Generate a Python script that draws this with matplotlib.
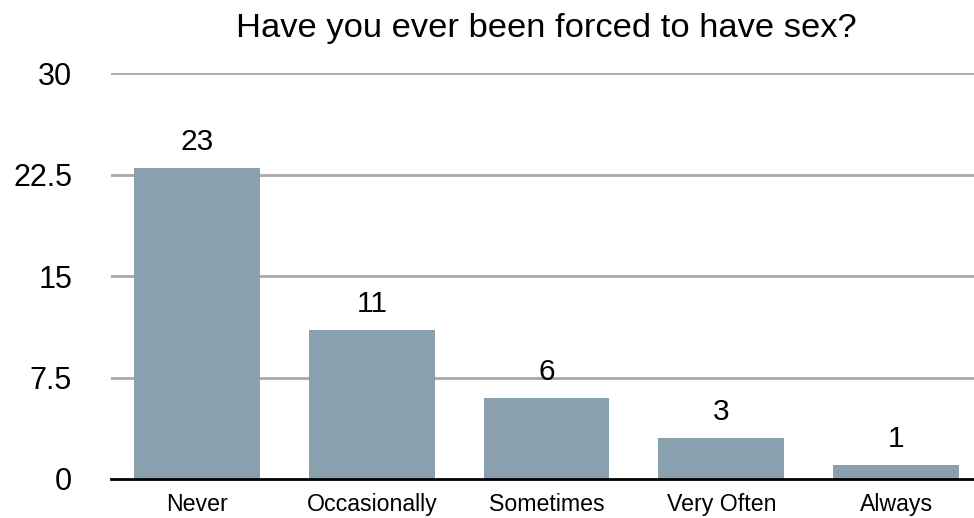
import matplotlib
matplotlib.use("Agg")
import matplotlib.pyplot as plt

plt.rcParams['font.family'] = ['Liberation Sans', 'DejaVu Sans']

categories = ["Never", "Occasionally", "Sometimes", "Very Often", "Always"]
counts = [23, 11, 6, 3, 1]
y_ticks = [0, 7.5, 15, 22.5, 30]
y_tick_labels = ["0", "7.5", "15", "22.5", "30"]

fig = plt.figure(figsize=(9.74, 5.18), dpi=100)
ax = fig.add_axes([111 / 974, 39 / 518, (974 - 111) / 974, (479 - 73.3) / 518])

x = list(range(len(categories)))
ax.bar(x, counts, width=0.72, color="#8aa0ae", zorder=3)

for xi, c in zip(x, counts):
    ax.annotate(str(c), (xi, c), xytext=(0, 13), textcoords="offset points",
                ha="center", va="baseline", fontsize=21.5, color="black")

ax.set_xlim(-0.492, 4.446)
ax.set_ylim(0, 30)
ax.set_yticks(y_ticks)
ax.set_yticklabels(y_tick_labels, fontsize=22)
ax.set_xticks(x)
ax.set_xticklabels(categories, fontsize=16.7)
ax.tick_params(axis="y", length=0, pad=28)
ax.tick_params(axis="x", length=0, pad=10)

for s in ["top", "right", "left"]:
    ax.spines[s].set_visible(False)
ax.spines["bottom"].set_linewidth(2)
ax.spines["bottom"].set_color("black")
ax.spines["bottom"].set_zorder(4)

for t in y_ticks[1:]:
    ax.axhline(t, color="#a8a8a8", linewidth=2, zorder=1)

fig.text(546 / 974, 0.9286, "Have you ever been forced to have sex?",
         ha="center", va="baseline", fontsize=24.8)

fig.savefig("out.png", dpi=100)
